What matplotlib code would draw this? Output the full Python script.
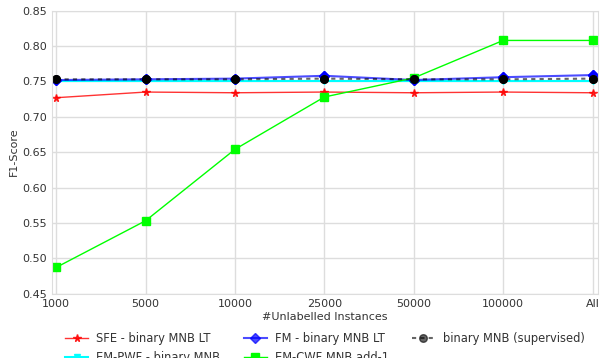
import matplotlib
matplotlib.use("Agg")
import matplotlib.pyplot as plt

# data
x_labels = ["1000", "5000", "10000", "25000", "50000", "100000", "All"]
sfe = [0.727, 0.735, 0.734, 0.735, 0.734, 0.735, 0.734]
em_pwf = [0.751, 0.751, 0.751, 0.751, 0.751, 0.751, 0.751]
fm = [0.752, 0.753, 0.754, 0.758, 0.752, 0.756, 0.759]
em_cwf = [0.487, 0.553, 0.654, 0.728, 0.755, 0.808, 0.808]
supervised = [0.753, 0.753, 0.753, 0.754, 0.753, 0.753, 0.754]
y_ticks = [0.45, 0.50, 0.55, 0.60, 0.65, 0.70, 0.75, 0.80, 0.85]

txt = "#333333"
plt.rcParams["font.family"] = ["DejaVu Sans"]
plt.rcParams["font.size"] = 8

fig = plt.figure(figsize=(6.07, 3.58), dpi=100)
ax = fig.add_axes([0.086, 0.18, 0.899, 0.79])
xs = list(range(len(x_labels)))

ax.plot(xs, sfe, color="red", marker="*", ms=5.5, lw=1, alpha=0.8,
        label="SFE - binary MNB LT")
ax.plot(xs, em_pwf, color="cyan", marker="v", ms=5, lw=1.5,
        label="EM-PWF - binary MNB")
ax.plot(xs, fm, color="blue", marker="D", ms=5.5, lw=1.5, alpha=0.7,
        label="FM - binary MNB LT")
ax.plot(xs, em_cwf, color="#00ff00", marker="s", ms=6, lw=1,
        label="EM-CWF MNB add-1")
ax.plot(xs, supervised, color="black", marker="o", ms=5.5, lw=1.5,
        ls=(0, (2, 2)), alpha=0.6, label="binary MNB (supervised)")
# redraw markers fully opaque
ax.plot(xs, fm, color="blue", marker="D", ms=5.5, lw=0)
ax.plot(xs, supervised, color="black", marker="o", ms=5.5, lw=0)

ax.set_xlim(-0.045, 6.06)
ax.set_ylim(0.45, 0.85)
ax.set_xticks(xs)
ax.set_xticklabels(x_labels, color=txt)
ax.set_yticks(y_ticks)
ax.set_yticklabels([f"{v:.2f}" for v in y_ticks], color=txt)
ax.tick_params(axis="both", length=0, pad=4)
ax.grid(True, color="#dddddd", lw=1)
ax.set_axisbelow(True)
for s in ax.spines.values():
    s.set_color("#dddddd")
ax.set_xlabel("#Unlabelled Instances", color=txt, labelpad=2)
ax.set_ylabel("F1-Score", color=txt, labelpad=2)

# second legend row is clipped by the figure edge, as in the original
ax.legend(loc="upper center", bbox_to_anchor=(0.5, -0.10), ncol=3,
          frameon=False, fontsize=8.3, handlelength=2, handletextpad=0.7,
          columnspacing=2.0, labelspacing=0.5, labelcolor=txt)

fig.savefig("out.png", dpi=100)
